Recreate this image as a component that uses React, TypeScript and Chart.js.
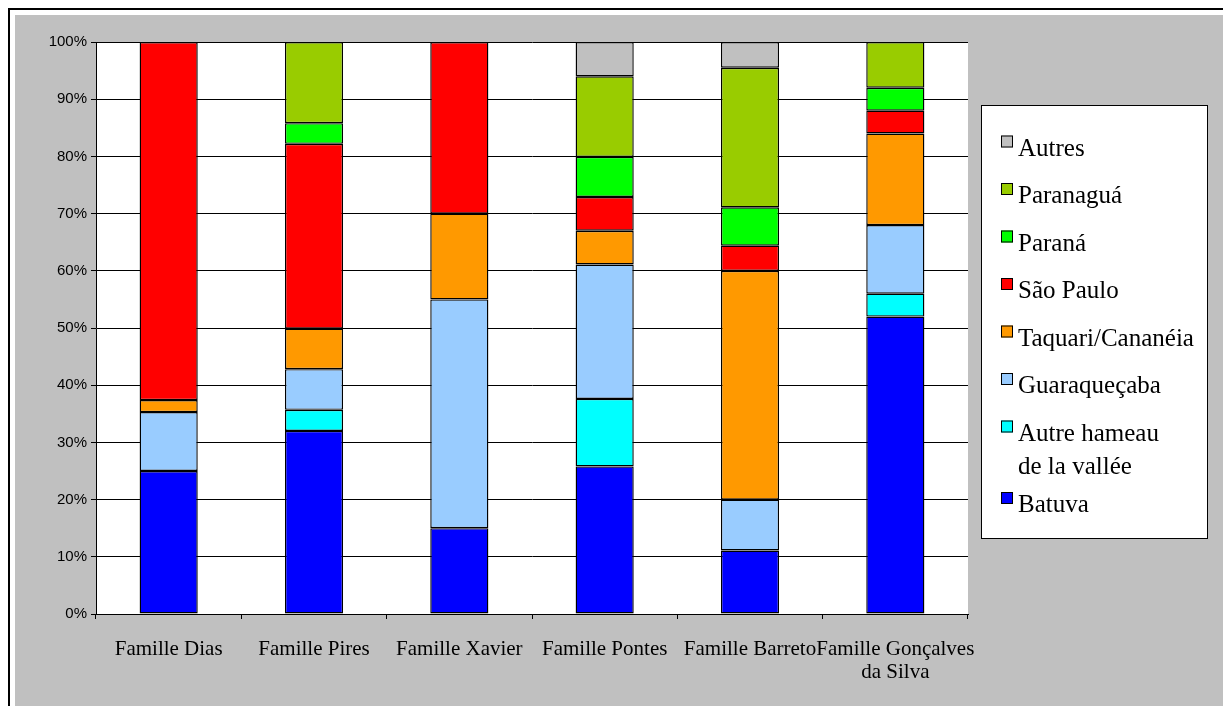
import React, { useEffect, useRef } from "react";
import { Chart, registerables } from "chart.js";

Chart.register(...registerables);

const categories: (string | string[])[] = [
  "Famille Dias",
  "Famille Pires",
  "Famille Xavier",
  "Famille Pontes",
  "Famille Barreto",
  ["Famille Gonçalves", "da Silva"],
];

const batuva = [25, 32, 15, 25.8, 11.1, 52];
const autreHameau = [0, 3.7, 0, 11.8, 0, 4];
const guaraquecaba = [10.3, 7.1, 40, 23.5, 8.9, 12];
const taquari = [2.1, 7.1, 15, 5.9, 40, 16];
const saoPaulo = [62.6, 32.3, 30, 5.9, 4.4, 4];
const parana = [0, 3.6, 0, 7, 6.7, 4];
const paranagua = [0, 14.2, 0, 14.1, 24.4, 8];
const autres = [0, 0, 0, 6, 4.5, 0];

const yTicks = [0, 10, 20, 30, 40, 50, 60, 70, 80, 90, 100];

const seriesNames: (string | string[])[] = [
  "Batuva",
  ["Autre hameau", "de la vallée"],
  "Guaraqueçaba",
  "Taquari/Cananéia",
  "São Paulo",
  "Paraná",
  "Paranaguá",
  "Autres",
];
const seriesValues = [batuva, autreHameau, guaraquecaba, taquari, saoPaulo, parana, paranagua, autres];
const seriesColors = ["#0000FF", "#00FFFF", "#99CCFF", "#FF9900", "#FF0000", "#00FF00", "#99CC00", "#C0C0C0"];

const frameBg = {
  id: "frameBg",
  beforeDraw(chart: any) {
    const ctx = chart.ctx;
    const { width, height, chartArea } = chart;
    ctx.save();
    ctx.fillStyle = "#FFFFFF";
    ctx.fillRect(0, 0, width, height);
    ctx.fillStyle = "#000000";
    ctx.fillRect(8, 8, width - 8, 2);
    ctx.fillRect(8, 8, 2, height - 8);
    ctx.fillStyle = "#C0C0C0";
    ctx.fillRect(15, 15, width - 15, height - 15);
    ctx.fillStyle = "#FFFFFF";
    ctx.fillRect(chartArea.left, chartArea.top, chartArea.right - chartArea.left, chartArea.bottom - chartArea.top);
    ctx.restore();
  },
};

const customLegend = {
  id: "customLegend",
  afterDraw(chart: any) {
    const ctx = chart.ctx;
    ctx.save();
    const bx = 981, by = 105, bw = 226, bh = 433;
    ctx.fillStyle = "#FFFFFF";
    ctx.fillRect(bx, by, bw, bh);
    ctx.strokeStyle = "#000000";
    ctx.lineWidth = 1;
    ctx.strokeRect(bx + 0.5, by + 0.5, bw, bh);
    ctx.font = "25px 'Liberation Serif', 'Times New Roman', serif";
    ctx.textBaseline = "alphabetic";
    ctx.textAlign = "left";
    const ds = chart.data.datasets.slice().reverse();
    let y = 155.5;
    ds.forEach((d: any) => {
      const lines: string[] = Array.isArray(d.label) ? d.label : [d.label];
      ctx.fillStyle = d.backgroundColor;
      ctx.fillRect(1001, y - 20, 12, 12);
      ctx.strokeStyle = "#000";
      ctx.strokeRect(1001.5, y - 19.5, 11, 11);
      ctx.fillStyle = "#000";
      lines.forEach((t, i) => ctx.fillText(t, 1018, y + i * 33.3));
      y += 47.5 + (lines.length - 1) * 24;
    });
    ctx.restore();
  },
};

export default function App() {
  const ref = useRef<HTMLCanvasElement | null>(null);
  useEffect(() => {
    if (!ref.current) return;
    const chart = new Chart(ref.current, {
      type: "bar",
      data: {
        labels: categories as any,
        datasets: seriesValues.map((vals, i) => ({
          label: seriesNames[i] as any,
          data: vals,
          backgroundColor: seriesColors[i],
          borderColor: "#000000",
          borderWidth: 1.4,
          borderSkipped: false,
          categoryPercentage: 1,
          barPercentage: 0.4,
        })),
      },
      options: {
        responsive: false,
        animation: false,
        devicePixelRatio: 1,
        layout: { padding: { left: 0, top: 42, right: 255, bottom: 0 } },
        plugins: { legend: { display: false }, tooltip: { enabled: false } },
        scales: {
          x: {
            stacked: true,
            afterFit: (s: any) => { s.height = 92; },
            grid: { display: true, drawOnChartArea: false, drawTicks: true, tickLength: 5, color: "#000", offset: true },
            border: { display: true, color: "#000", width: 1 },
            ticks: {
              color: "#000",
              font: { family: "'Liberation Serif', 'Times New Roman', serif", size: 21, lineHeight: 1.1 },
              padding: 19,
              maxRotation: 0,
              minRotation: 0,
              autoSkip: false,
            },
          },
          y: {
            stacked: true,
            min: 0,
            max: 100,
            afterFit: (s: any) => { s.width = 96; },
            afterBuildTicks: (s: any) => { s.ticks = yTicks.map((v) => ({ value: v })); },
            grid: { color: "#000", lineWidth: 1, tickLength: 5, drawTicks: true },
            border: { display: true, color: "#000", width: 1 },
            ticks: {
              color: "#000",
              font: { family: "'Liberation Sans', Arial, sans-serif", size: 15 },
              padding: 4,
              callback: (v: any) => v + "%",
            },
          },
        },
      },
      plugins: [frameBg, customLegend],
    });
    return () => chart.destroy();
  }, []);
  return (
    <div style={{ position: "fixed", left: 0, top: 0, width: 1223, height: 706 }}>
      <canvas ref={ref} width={1223} height={706} style={{ display: "block" }} />
    </div>
  );
}
